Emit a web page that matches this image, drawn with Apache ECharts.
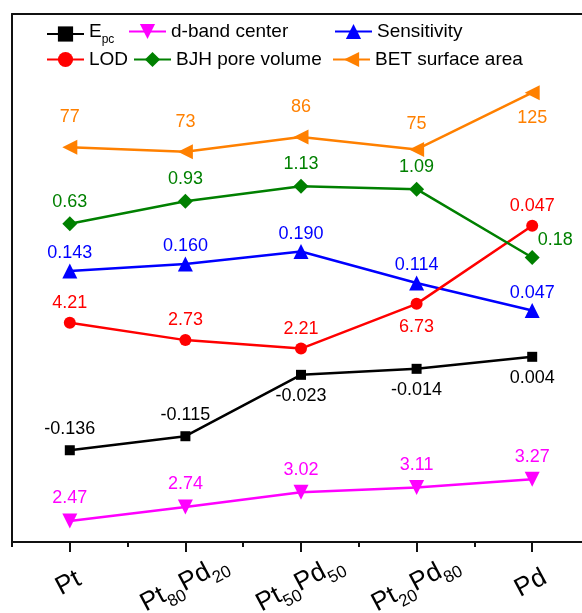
<!DOCTYPE html>
<html>
<head>
<meta charset="utf-8">
<script src="https://cdn.jsdelivr.net/npm/echarts@6/dist/echarts.min.js"></script>
<style>
  html, body { margin: 0; padding: 0; background: #ffffff; }
  #chart { width: 582px; height: 613px; }
</style>
</head>
<body>
<div id="chart"></div>
<script>
// Catalyst compositions along the x axis
const categories = ['Pt', 'Pt80Pd20', 'Pt50Pd50', 'Pt20Pd80', 'Pd'];

// Property values per composition
const epcValues = [-0.136, -0.115, -0.023, -0.014, 0.004];
const dBandValues = [2.47, 2.74, 3.02, 3.11, 3.27];
const sensitivityValues = [0.143, 0.160, 0.190, 0.114, 0.047];
const lodValues = [4.21, 2.73, 2.21, 6.73, 0.047];
const lodUnits = ['nM', 'nM', 'nM', 'nM', 'µM'];
const bjhValues = [0.63, 0.93, 1.13, 1.09, 0.18];
const betValues = [77, 73, 86, 75, 125];

const FONT = 'Arial, "Liberation Sans", Helvetica, sans-serif';
const AXIS_COLOR = '#111111';

const COLORS = {
  epc: '#000000',
  dband: '#ff00ff',
  sens: '#0000ff',
  lod: '#ff0000',
  bjh: '#008000',
  bet: '#ff8000'
};

// Every property gets its own hidden value axis; the ranges stack the curves in bands
const bands = {
  epc: { type: 'value', min: -0.2735, max: 0.5177 },
  dband: { type: 'value', min: 2.0666, max: 12.193 },
  sens: { type: 'value', min: -0.5136, max: 0.7655 },
  lod: { type: 'log', min: 0.01796, max: 9131 },
  bjh: { type: 'value', min: -3.608, max: 3.423 },
  bet: { type: 'value', min: -270.9, max: 194.3 }
};
const bandOrder = ['epc', 'dband', 'sens', 'lod', 'bjh', 'bet'];

// builds data items whose label text is the formatted value
function points(values, digits, overrides) {
  return values.map((v, i) => {
    const item = { value: v, label: { formatter: v.toFixed(digits) } };
    if (overrides && overrides[i]) Object.assign(item.label, overrides[i]);
    return item;
  });
}

// LOD in one unit (nM) for plotting; each label keeps its own unit's figure
const lodPoints = lodValues.map((v, i) => {
  const micro = lodUnits[i] === 'µM';
  const item = {
    value: micro ? v * 1000 : v,
    label: { formatter: v.toFixed(micro ? 3 : 2) }
  };
  if (i === 3) Object.assign(item.label, { position: 'bottom', distance: 8 });
  return item;
});

function lineSeries(name, key, data, symbol, size, rotate, labelDistance) {
  return {
    name: name,
    type: 'line',
    xAxisIndex: 0,
    yAxisIndex: 1 + bandOrder.indexOf(key),
    data: data,
    symbol: symbol,
    symbolSize: size,
    symbolRotate: rotate,
    showAllSymbol: true,
    lineStyle: { color: COLORS[key], width: 2.5 },
    itemStyle: { color: COLORS[key] },
    label: {
      show: true,
      position: 'top',
      distance: labelDistance,
      color: COLORS[key],
      fontSize: 18,
      fontFamily: FONT
    },
    emphasis: { disabled: true },
    z: 3
  };
}

const seriesList = [
  lineSeries('Epc', 'epc', points(epcValues, 3, {
    2: { position: 'bottom' }, 3: { position: 'bottom' }, 4: { position: 'bottom' }
  }), 'rect', 10, 0, 7),
  lineSeries('d-band center', 'dband', points(dBandValues, 2), 'triangle', 15, 180, 6),
  lineSeries('Sensitivity', 'sens', points(sensitivityValues, 3), 'triangle', 15, 0, 1),
  lineSeries('LOD', 'lod', lodPoints, 'circle', 12, 0, 5),
  lineSeries('BJH pore volume', 'bjh', points(bjhValues, 2, {
    4: { offset: [23, 0], distance: 1.5 }
  }), 'diamond', 15, 0, 5.5),
  lineSeries('BET surface area', 'bet', points(betValues, 0, {
    3: { distance: 8.5 }, 4: { position: 'bottom', distance: 8.5 }
  }), 'triangle', 15, 90, 13.5)
];

// legend entries in two rows of three
const legendSlots = [
  { name: 'Epc', left: 46, top: 22 },
  { name: 'd-band center', left: 128, top: 22 },
  { name: 'Sensitivity', left: 334, top: 22 },
  { name: 'LOD', left: 46, top: 50 },
  { name: 'BJH pore volume', left: 133, top: 50 },
  { name: 'BET surface area', left: 332, top: 50 }
];

const legends = legendSlots.map(s => ({
  data: [s.name],
  left: s.left,
  top: s.top,
  padding: 0,
  itemWidth: 37,
  itemHeight: 19,
  itemGap: 0,
  selectedMode: false,
  formatter: n => (n === 'Epc' ? '{n|E}{s|pc}' : n),
  textStyle: {
    fontSize: 19,
    fontFamily: FONT,
    color: '#000',
    rich: {
      n: { fontSize: 19, fontFamily: FONT, color: '#000', padding: [0, 0, 5, 0] },
      s: { fontSize: 12, fontFamily: FONT, color: '#000', verticalAlign: 'bottom' }
    }
  }
}));

// composition names with numeric subscripts
function subscriptLabel(v) {
  return v.split(/(\d+)/).filter(Boolean)
    .map(t => (/^\d+$/.test(t) ? '{s|' + t + '}' : '{n|' + t + '}')).join('');
}

const option = {
  backgroundColor: '#ffffff',
  animation: false,
  grid: { left: 12, top: 14, right: -8, bottom: 71, containLabel: false, outerBoundsMode: 'none' },
  legend: legends,
  xAxis: [
    {
      type: 'category',
      data: categories,
      position: 'bottom',
      boundaryGap: true,
      axisLine: { onZero: false, lineStyle: { color: AXIS_COLOR, width: 2 } },
      axisTick: { show: true, alignWithLabel: true, length: 10, lineStyle: { color: AXIS_COLOR, width: 2 } },
      axisLabel: {
        rotate: 28,
        align: 'center',
        verticalAlign: 'middle',
        margin: 44,
        color: '#000',
        formatter: subscriptLabel,
        rich: {
          n: { fontSize: 26, fontFamily: FONT, color: '#000', padding: [0, 0, 6, 0] },
          s: { fontSize: 17, fontFamily: FONT, color: '#000', verticalAlign: 'bottom' }
        }
      },
      splitLine: { show: false }
    },
    {
      type: 'category',
      data: categories,
      position: 'bottom',
      boundaryGap: true,
      axisLine: { show: false, onZero: false },
      axisTick: { show: true, length: 5, lineStyle: { color: AXIS_COLOR, width: 2 } },
      axisLabel: { show: false },
      splitLine: { show: false }
    },
    {
      type: 'category',
      data: categories,
      position: 'top',
      axisLine: { onZero: false, lineStyle: { color: AXIS_COLOR, width: 2 } },
      axisTick: { show: false },
      axisLabel: { show: false },
      splitLine: { show: false }
    }
  ],
  yAxis: [
    {
      type: 'value',
      position: 'left',
      min: 0,
      max: 1,
      axisLine: { show: true, onZero: false, lineStyle: { color: AXIS_COLOR, width: 2 } },
      axisTick: { show: false },
      axisLabel: { show: false },
      splitLine: { show: false }
    }
  ].concat(bandOrder.map(k => Object.assign({ show: false, splitLine: { show: false } }, bands[k]))),
  series: seriesList
};

const chart = echarts.init(document.getElementById('chart'), null, { renderer: 'canvas' });
chart.setOption(option);
</script>
</body>
</html>
